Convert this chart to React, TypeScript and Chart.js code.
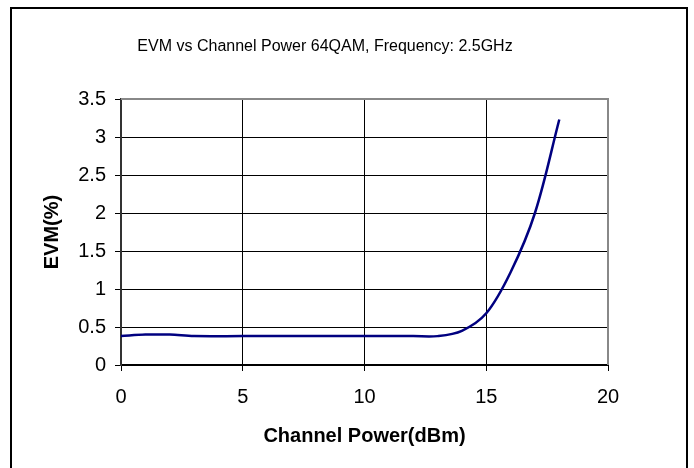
import React, { useEffect, useRef } from "react";
import { Chart, registerables } from "chart.js";

Chart.register(...registerables);

const chartTitle = "EVM vs Channel Power 64QAM, Frequency: 2.5GHz";
const xAxisTitle = "Channel Power(dBm)";
const yAxisTitle = "EVM(%)";

const powerDbm = [0, 1, 2, 3, 5, 8, 10, 12, 13, 14, 15, 16, 17, 18];
const evmPercent = [0.38, 0.4, 0.4, 0.38, 0.38, 0.38, 0.38, 0.38, 0.38, 0.45, 0.68, 1.22, 2.0, 3.23];

const xTicks = [0, 5, 10, 15, 20];
const yTicks = [0, 0.5, 1, 1.5, 2, 2.5, 3, 3.5];

const FONT = "'Liberation Sans', Arial, sans-serif";

const framePlugin = {
  id: "frame",
  afterDraw(chart: any) {
    const ctx = chart.ctx;
    const a = chart.chartArea;
    ctx.save();
    // outer border
    ctx.strokeStyle = "#000";
    ctx.lineWidth = 2;
    ctx.beginPath();
    ctx.moveTo(11, 470);
    ctx.lineTo(11, 8);
    ctx.lineTo(687, 8);
    ctx.lineTo(687, 470);
    ctx.stroke();
    // plot frame top/right
    ctx.strokeStyle = "#888";
    ctx.lineWidth = 2;
    ctx.beginPath();
    ctx.moveTo(a.left, a.top);
    ctx.lineTo(a.right, a.top);
    ctx.lineTo(a.right, a.bottom);
    ctx.stroke();
    // texts
    ctx.fillStyle = "#000";
    ctx.textAlign = "center";
    ctx.textBaseline = "middle";
    ctx.font = `16px ${FONT}`;
    ctx.fillText(chartTitle, 325, 47);
    ctx.font = `bold 20px ${FONT}`;
    ctx.fillText(xAxisTitle, (a.left + a.right) / 2, 436);
    ctx.translate(52, (a.top + a.bottom) / 2);
    ctx.rotate(-Math.PI / 2);
    ctx.fillText(yAxisTitle, 0, 0);
    ctx.restore();
  },
};

export default function App() {
  const ref = useRef<HTMLCanvasElement | null>(null);
  useEffect(() => {
    if (!ref.current) return;
    const chart = new Chart(ref.current, {
      type: "scatter",
      data: {
        datasets: [
          {
            data: powerDbm.map((x, i) => ({ x, y: evmPercent[i] })),
            showLine: true,
            borderColor: "#000080",
            borderWidth: 2.5,
            pointRadius: 0,
            tension: 0.35,
            fill: false,
          },
        ],
      },
      options: {
        animation: false,
        responsive: false,
        devicePixelRatio: 1,
        layout: { padding: { left: 0, right: 86, top: 99, bottom: 43 } },
        plugins: { legend: { display: false }, tooltip: { enabled: false }, title: { display: false } },
        scales: {
          x: {
            type: "linear",
            min: 0,
            max: 20,
            afterBuildTicks: (s: any) => {
              s.ticks = xTicks.map((v) => ({ value: v }));
            },
            afterFit: (s: any) => {
              s.height = 60;
            },
            ticks: {
              color: "#000",
              font: { family: FONT, size: 20 },
              padding: 14,
              maxRotation: 0,
              callback: (v: any) => String(v),
            },
            grid: {
              color: (c: any) => (c.tick && (c.tick.value === 20 || c.tick.value === 0) ? "rgba(0,0,0,0)" : "#000"),
              tickColor: "#000",
              lineWidth: 1,
              tickLength: 6,
              drawTicks: true,
            },
            border: { color: "#000", width: 2 },
          },
          y: {
            type: "linear",
            min: 0,
            max: 3.5,
            afterBuildTicks: (s: any) => {
              s.ticks = yTicks.map((v) => ({ value: v }));
            },
            afterFit: (s: any) => {
              s.width = 121;
            },
            ticks: {
              color: "#000",
              font: { family: FONT, size: 20 },
              padding: 9,
              callback: (v: any) => String(v),
            },
            grid: {
              color: (c: any) => (c.tick && (c.tick.value === 3.5 || c.tick.value === 0) ? "rgba(0,0,0,0)" : "#000"),
              tickColor: "#000",
              lineWidth: 1,
              tickLength: 6,
              drawTicks: true,
            },
            border: { color: "#333", width: 2 },
          },
        },
      },
      plugins: [framePlugin],
    } as any);
    return () => chart.destroy();
  }, []);
  return (
    <div style={{ position: "fixed", left: 0, top: 0, width: 694, height: 468, background: "#fff" }}>
      <canvas ref={ref} width={694} height={468} style={{ display: "block", width: 694, height: 468 }} />
    </div>
  );
}
